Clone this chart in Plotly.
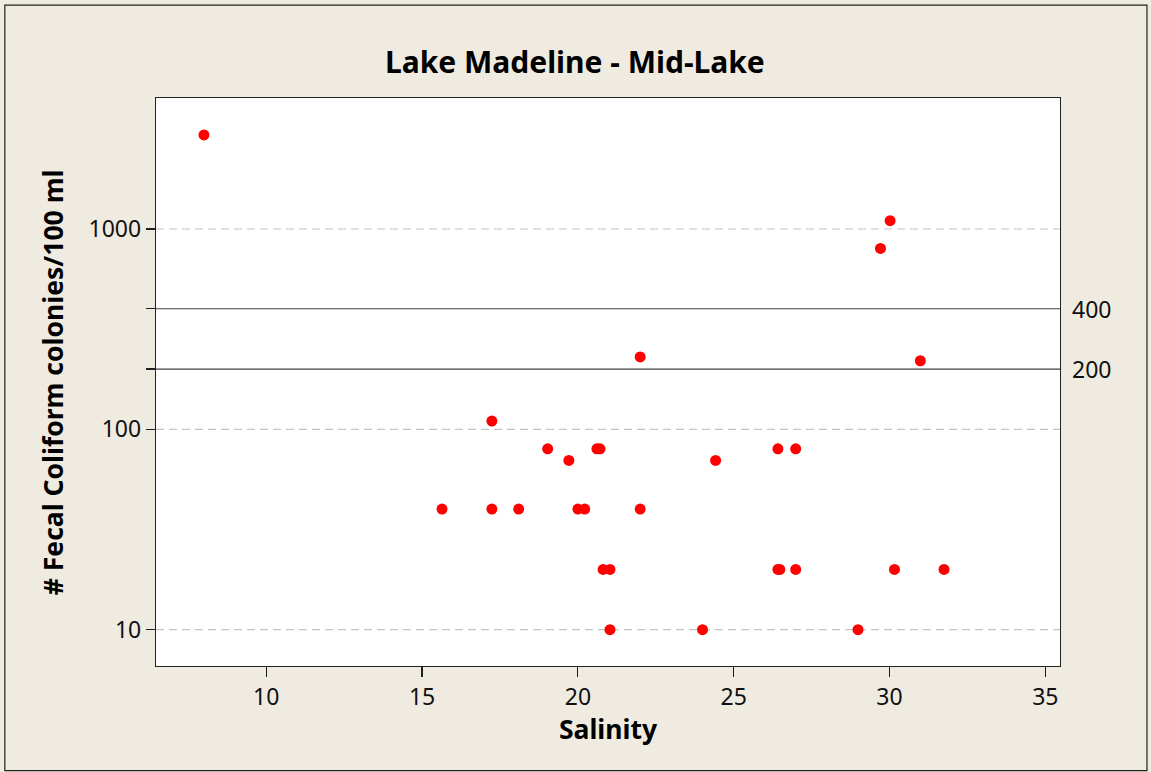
import math
import plotly.graph_objects as go

# ---- data ----
salinity = [8.0, 15.64, 17.24, 17.24, 18.1, 19.03, 19.71, 20.0, 20.22, 20.61,
            20.71, 20.81, 21.03, 21.03, 22.0, 22.0, 24.0, 24.42, 26.42, 26.99,
            26.42, 26.48, 26.99, 28.99, 29.71, 30.02, 30.16, 30.99, 31.75]
coliform = [2950, 40, 110, 40, 40, 80, 70, 40, 40, 80,
            80, 20, 20, 10, 230, 40, 10, 70, 80, 80,
            20, 20, 20, 10, 800, 1100, 20, 220, 20]

x_ticks = [10, 15, 20, 25, 30, 35]
y_ticks = [10, 100, 200, 400, 1000]
y_ticktext = ["10", "100", "", "", "1000"]
grid_levels = [10, 100, 1000]
ref_levels = [200, 400]
ref_labels = ["200", "400"]

title_text = "Lake Madeline - Mid-Lake"
x_title = "Salinity"
y_title = "# Fecal Coliform colonies/100 ml"

FONT = "Noto Sans"
BG = "#EFEBE1"

fig = go.Figure()
fig.add_trace(go.Scatter(
    x=salinity, y=coliform, mode="markers",
    marker=dict(color="#FF0000", size=11, line=dict(width=0)),
    showlegend=False, hoverinfo="x+y",
))

PL, PR, PT, PB = 155.7, 1060.0, 98.3, 666.0
PW, PH = PR - PL, PB - PT

shapes = []
for g in grid_levels:
    shapes.append(dict(type="line", xref="paper", yref="y", x0=0, x1=1, y0=g, y1=g,
                       line=dict(color="#C4C4C4", width=1.2, dash="8px,5px"), layer="below"))
for r in ref_levels:
    shapes.append(dict(type="line", xref="paper", yref="y", x0=0, x1=1, y0=r, y1=r,
                       line=dict(color="#404040", width=1.2), layer="above"))
# outer border
shapes.append(dict(type="rect", xref="paper", yref="paper",
                   x0=(4.5 - PL) / PW, x1=(1147 - PL) / PW,
                   y0=-(770.5 - PB) / PH, y1=1 + (PT - 5.5) / PH,
                   line=dict(color="#202020", width=1.2), fillcolor="rgba(0,0,0,0)", layer="below"))

annotations = []
for r, lab in zip(ref_levels, ref_labels):
    annotations.append(dict(text=lab, xref="paper", yref="y", x=1, y=math.log10(r),
                            xanchor="left", yanchor="middle", xshift=10, showarrow=False,
                            font=dict(family=FONT, size=23, color="#111111")))
annotations.append(dict(text="<b>" + title_text + "</b>", xref="paper", yref="paper",
                        x=(574.5 - PL) / PW, y=1 + (PT - 62) / PH,
                        xanchor="center", yanchor="middle", showarrow=False,
                        font=dict(family=FONT, size=30, color="#000000")))
annotations.append(dict(text="<b>" + x_title + "</b>", xref="paper", yref="paper",
                        x=(608.5 - PL) / PW, y=-(729 - PB) / PH,
                        xanchor="center", yanchor="middle", showarrow=False,
                        font=dict(family=FONT, size=26.5, color="#000000")))
annotations.append(dict(text="<b>" + y_title + "</b>", xref="paper", yref="paper",
                        x=-(PL - 53) / PW, y=(PB - 382) / PH,
                        xanchor="center", yanchor="middle", showarrow=False, textangle=-90,
                        font=dict(family=FONT, size=26.5, color="#000000")))

fig.update_layout(
    width=1151, height=772,
    margin=dict(l=PL, r=1151 - PR, t=PT, b=772 - PB, autoexpand=False),
    paper_bgcolor=BG, plot_bgcolor="#FFFFFF",
    shapes=shapes, annotations=annotations,
    font=dict(family=FONT, color="#111111"),
    hovermode=False,
    xaxis=dict(range=[6.461, 35.472], tickvals=x_ticks, ticks="outside", ticklen=10,
               tickwidth=1.2, tickcolor="#202020", showgrid=False, zeroline=False,
               showline=True, linecolor="#202020", linewidth=1.2, mirror=True,
               tickfont=dict(family=FONT, size=23, color="#111111")),
    yaxis=dict(type="log", range=[0.8188, 3.6539], tickvals=y_ticks, ticktext=y_ticktext,
               ticks="outside", ticklen=9, tickwidth=1.2, tickcolor="#202020",
               showgrid=False, zeroline=False, showline=True, linecolor="#202020",
               linewidth=1.2, mirror=True,
               tickfont=dict(family=FONT, size=23, color="#111111")),
)

fig.write_html(
    "out.html",
    config={"displayModeBar": False, "staticPlot": True},
    post_script="document.body.style.margin='0px';document.body.style.padding='0px';"
                "document.body.style.background='#EFEBE1';"
                "document.body.style.overflow='hidden';",
)
